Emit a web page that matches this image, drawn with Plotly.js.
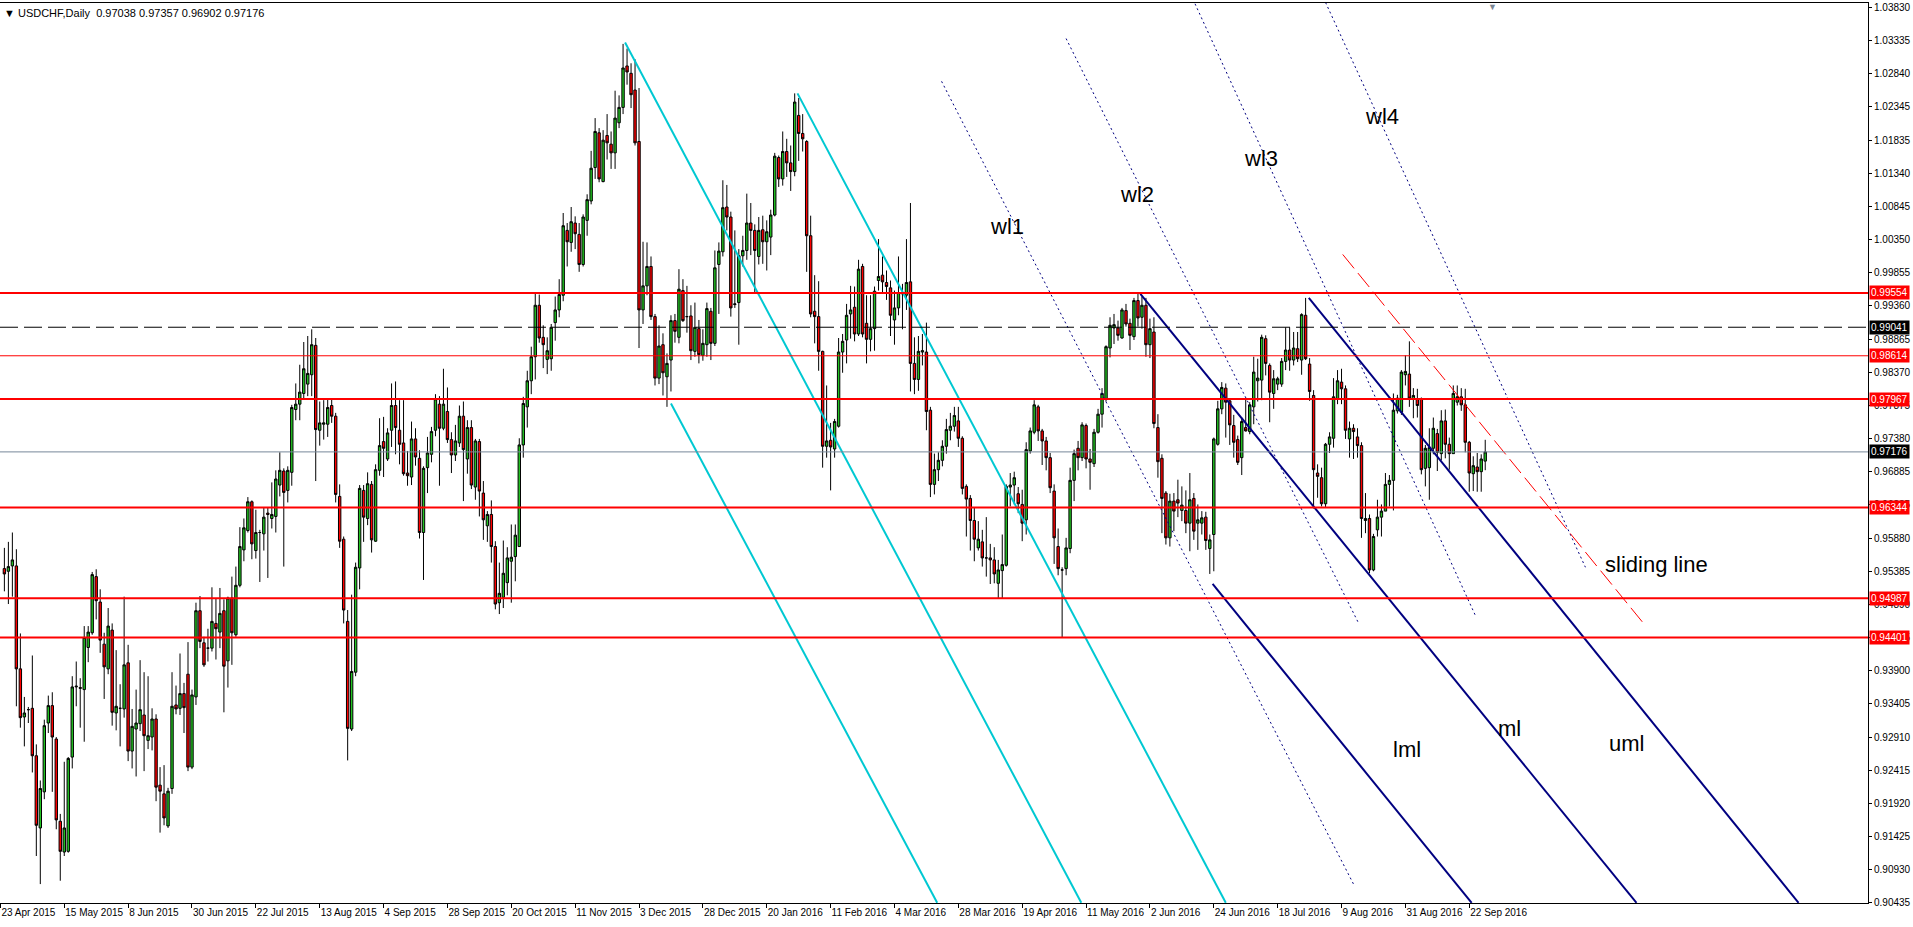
<!DOCTYPE html>
<html><head><meta charset="utf-8">
<script src="https://cdn.plot.ly/plotly-3.0.1.min.js"></script>
<style>html,body{margin:0;padding:0;background:#fff;overflow:hidden}#chart{width:1913px;height:927px}</style>
</head><body><div id="chart"></div>
<script>
const symbolTitle = 'USDCHF,Daily';
const lastBar = ['0.97038', '0.97357', '0.96902', '0.97176'];

const dateLabels = ['23 Apr 2015','15 May 2015','8 Jun 2015','30 Jun 2015','22 Jul 2015','13 Aug 2015','4 Sep 2015','28 Sep 2015','20 Oct 2015','11 Nov 2015','3 Dec 2015','28 Dec 2015','20 Jan 2016','11 Feb 2016','4 Mar 2016','28 Mar 2016','19 Apr 2016','11 May 2016','2 Jun 2016','24 Jun 2016','18 Jul 2016','9 Aug 2016','31 Aug 2016','22 Sep 2016'];
const dateLabelBars = [0,16,32,48,64,80,96,112,128,144,160,176,192,208,224,240,256,272,288,304,320,336,352,368];

const priceTicks = [1.03830,1.03335,1.02840,1.02345,1.01835,1.01340,1.00845,1.00350,0.99855,0.99360,0.98865,0.98370,0.97875,0.97380,0.96885,0.96385,0.95880,0.95385,0.94890,0.94395,0.93900,0.93405,0.92910,0.92415,0.91920,0.91425,0.90930,0.90435];

const openPrices = [
.9543,.9539,.9547,.9547,.9393,.9321,.9332,.9334,.9263,.9155,
.9209,.9312,.9338,.9288,.9165,.9119,.9120,.9261,.9366,.9365,
.9362,.9425,.9447,.9531,.9493,.9430,.9393,.9451,.9327,.9334,
.9333,.9402,.9270,.9303,.9311,.9324,.9286,.9291,.9318,.9219,
.9206,.9158,.9214,.9339,.9334,.9356,.9385,.9246,.9351,.9480,
.9432,.9424,.9424,.9461,.9448,.9480,.9405,.9499,.9444,.9518,
.9571,.9600,.9643,.9570,.9597,.9595,.9626,.9618,.9621,.9668,
.9689,.9660,.9687,.9781,.9789,.9805,.9819,.9833,.9877,.9750,
.9759,.9759,.9787,.9771,.9651,.9587,.9464,.9303,.9388,.9544,
.9660,.9618,.9669,.9584,.9690,.9733,.9707,.9750,.9787,.9750,
.9731,.9686,.9680,.9737,.9708,.9597,.9694,.9714,.9750,.9789,
.9753,.9778,.9736,.9713,.9731,.9771,.9707,.9754,.9665,.9733,
.9656,.9607,.9624,.9576,.9492,
.9500,.9522,.9554,.9561,.9576,.9728,.9785,.9824,.9860,.9937,
.9889,.9856,.9857,.9911,.9930,.9952,1.0049,1.0031,1.0060,1.0043,
.9998,1.0064,1.0093,1.0143,1.0195,1.0122,1.0191,1.0178,1.0165,1.0210,
1.0233,1.0295,1.0284,1.0259,1.0182,.9930,.9966,.9995,.9920,.9828,
.9878,.9830,.9855,.9914,.9889,.9959,.9920,.9921,.9868,.9902,
.9862,.9878,.9928,.9880,.9998,1.0017,1.0084,1.0069,.9938,.9941,
1.0011,1.0019,1.0060,1.0049,1.0010,1.0050,1.0032,1.0039,1.0072,1.0158,
1.0126,1.0167,1.0150,1.0137,1.0221,1.0194,1.0182,1.0041,.9928,.9920,
.9868,.9726,.9735,.9722,.9756,.9867,.9885,.9924,.9934,.9894,
.9995,.9910,.9886,.9902,.9974,.9982,.9971,.9963,.9915,.9933,
.9954,.9952,.9972,.9850,.9826,.9867,.9867,.9780,.9669,.9691,
.9705,.9726,.9750,.9756,.9764,.9738,.9666,.9648,.9615,.9574,
.9583,.9559,
.9559,.9556,.9521,.9540,.9548,.9665,.9668,.9655,.9639,.9616,
.9719,.9747,.9785,.9749,.9734,.9709,.9659,.9576,.9541,.9543,
.9573,.9675,.9723,.9709,.9757,.9707,.9700,.9747,.9774,.9797,
.9873,.9903,.9903,.9888,.9929,.9910,.9890,.9944,.9919,.9937,
.9878,.9897,.9754,.9708,.9656,.9589,.9644,.9646,.9630,.9630,
.9611,.9648,.9611,.9611,.9620,.9573,.9594,.9729,.9782,.9813,
.9794,.9757,.9736,.9709,.9754,.9748,.9785,.9824,.9825,.9887,
.9847,.9805,.9819,.9819,.9853,.9870,.9855,.9872,.9855,.9922,
.9849,.9802,.9686,.9679,.9640,.9729,.9738,.9797,.9822,.9812,
.9737,.9753,.9740,.9727,.9615,.9618,.9541,.9601,.9620,.9629,
.9669,.9675,.9779,.9777,.9833,.9834,.9797,.9797,.9797,.9693,
.9694,.9723,.9745,.9715,.9764,.9729,.9715,.9792,.9800,.9788,
.9732,.9685,.9695,.9688,.97038];

const highPrices = [
.9574,.9583,.9597,.9572,.9446,.9351,.9336,.9413,.9280,.9226,
.9317,.9353,.9358,.9291,.9176,.9254,.9261,.9382,.9404,.9379,
.9457,.9457,.9538,.9542,.9512,.9447,.9484,.9461,.9421,.9370,
.9501,.9429,.9333,.9362,.9406,.9388,.9382,.9334,.9325,.9246,
.9249,.9215,.9388,.9368,.9416,.9372,.9433,.9362,.9492,.9502,
.9441,.9453,.9515,.9498,.9514,.9497,.9501,.9531,.9546,.9605,
.9618,.9650,.9645,.9631,.9601,.9635,.9634,.9672,.9690,.9717,
.9693,.9696,.9788,.9820,.9848,.9882,.9891,.9901,.9888,.9793,
.9795,.9797,.9797,.9776,.9669,.9591,.9481,.9504,.9552,.9668,
.9668,.9687,.9674,.9699,.9768,.9770,.9753,.9820,.9823,.9795,
.9795,.9719,.9763,.9753,.9720,.9696,.9740,.9755,.9804,.9801,
.9842,.9814,.9747,.9758,.9787,.9793,.9765,.9765,.9737,.9737,
.9674,.9629,.9645,.9584,.9552,
.9585,.9575,.9609,.9609,.9738,.9800,.9839,.9875,.9956,.9953,
.9907,.9889,.9909,.9950,.9976,1.0075,1.0060,1.0084,1.0070,1.0060,
1.0073,1.0103,1.0168,1.0217,1.0202,1.0199,1.0223,1.0197,1.0258,1.0251,
1.0328,1.0321,1.0299,1.0305,1.0262,1.0032,1.0031,1.0010,.9924,.9907,
.9895,.9865,.9922,.9924,.9991,.9976,.9966,.9937,.9941,.9915,
.9901,.9941,.9933,1.0019,1.0031,1.0124,1.0117,1.0077,1.0049,1.0021,
1.0041,1.0104,1.0090,1.0058,1.0069,1.0071,1.0064,1.0080,1.0165,1.0161,
1.0197,1.0186,1.0176,1.0254,1.0247,1.0223,1.0184,1.0071,.9982,.9973,
.9869,.9817,.9761,.9767,.9888,.9894,.9939,.9966,.9965,1.0005,
.9999,.9952,.9952,.9965,1.0036,1.0010,.9989,.9974,.9959,1.0010,
.9969,1.0036,1.0090,.9889,.9891,.9894,.9911,.9785,.9715,.9717,
.9735,.9767,.9776,.9785,.9785,.9741,.9669,.9653,.9634,.9614,
.9601,.9620,
.9580,.9575,.9556,.9594,.9669,.9686,.9688,.9665,.9661,.9732,
.9754,.9795,.9788,.9752,.9740,.9716,.9669,.9603,.9545,.9589,
.9694,.9721,.9734,.9762,.9760,.9722,.9752,.9782,.9813,.9877,
.9919,.9924,.9914,.9933,.9939,.9917,.9948,.9954,.9950,.9948,
.9917,.9919,.9774,.9714,.9659,.9655,.9656,.9676,.9666,.9660,
.9686,.9656,.9639,.9629,.9628,.9594,.9739,.9794,.9822,.9820,
.9797,.9773,.9742,.9769,.9797,.9792,.9860,.9857,.9893,.9892,
.9850,.9840,.9830,.9858,.9904,.9904,.9897,.9897,.9925,.9948,
.9858,.9810,.9699,.9694,.9731,.9747,.9828,.9840,.9842,.9817,
.9763,.9759,.9753,.9732,.9656,.9624,.9595,.9646,.9639,.9686,
.9683,.9805,.9803,.9840,.9862,.9883,.9813,.9812,.9799,.9728,
.9753,.9769,.9752,.9780,.9781,.9739,.9817,.9817,.9813,.9812,
.9734,.9711,.9716,.9714,.97357];

const lowPrices = [
.9509,.9490,.9501,.9337,.9305,.9277,.9312,.9238,.9113,.9071,
.9198,.9297,.9209,.9153,.9076,.9113,.9118,.9244,.9337,.9305,
.9284,.9403,.9444,.9467,.9417,.9348,.9385,.9308,.9301,.9277,
.9320,.9255,.9244,.9232,.9300,.9240,.9273,.9271,.9195,.9148,
.9159,.9155,.9206,.9325,.9324,.9297,.9240,.9243,.9339,.9424,
.9396,.9404,.9419,.9407,.9424,.9328,.9365,.9399,.9441,.9515,
.9554,.9597,.9557,.9558,.9523,.9570,.9529,.9603,.9597,.9651,
.9546,.9642,.9667,.9765,.9765,.9797,.9801,.9801,.9674,.9727,
.9736,.9740,.9761,.9642,.9574,.9461,.9256,.9300,.9382,.9512,
.9583,.9608,.9567,.9583,.9682,.9680,.9704,.9725,.9714,.9699,
.9682,.9667,.9668,.9697,.9588,.9526,.9656,.9702,.9741,.9667,
.9750,.9731,.9686,.9704,.9725,.9644,.9685,.9662,.9646,.9621,
.9586,.9583,.9552,.9482,.9475,
.9484,.9503,.9492,.9524,.9576,.9709,.9754,.9804,.9826,.9881,
.9843,.9834,.9839,.9884,.9919,.9943,.9995,1.0017,1.0021,.9987,
.9995,1.0041,1.0088,1.0126,1.0121,1.0121,1.0155,1.0141,1.0141,1.0202,
1.0223,1.0267,1.0232,1.0176,.9873,.9909,.9952,.9915,.9817,.9819,
.9802,.9785,.9808,.9881,.9880,.9912,.9896,.9855,.9860,.9850,
.9854,.9860,.9855,.9876,.9924,1.0010,1.0049,.9920,.9933,.9878,
.9995,1.0005,1.0012,.9956,.9998,.9999,.9989,1.0012,1.0070,1.0114,
1.0116,1.0129,1.0108,1.0130,1.0153,1.0167,.9987,.9919,.9880,.9839,
.9694,.9709,.9660,.9709,.9754,.9836,.9850,.9887,.9883,.9891,
.9889,.9850,.9868,.9869,.9959,.9954,.9945,.9891,.9878,.9922,
.9901,.9930,.9808,.9804,.9809,.9847,.9750,.9650,.9654,.9674,
.9696,.9715,.9735,.9748,.9725,.9654,.9591,.9570,.9554,.9570,
.9546,.9531,
.9520,.9521,.9499,.9498,.9546,.9636,.9639,.9626,.9584,.9594,
.9715,.9744,.9734,.9698,.9690,.9656,.9550,.9533,.9440,.9533,
.9566,.9644,.9690,.9704,.9693,.9661,.9695,.9745,.9754,.9793,
.9859,.9879,.9884,.9887,.9905,.9870,.9885,.9905,.9902,.9860,
.9858,.9753,.9679,.9596,.9579,.9576,.9599,.9620,.9614,.9596,
.9569,.9586,.9571,.9594,.9571,.9535,.9539,.9727,.9774,.9739,
.9728,.9709,.9698,.9683,.9748,.9744,.9759,.9793,.9795,.9832,
.9762,.9782,.9810,.9815,.9840,.9839,.9847,.9852,.9833,.9855,
.9794,.9633,.9649,.9636,.9635,.9716,.9724,.9789,.9789,.9737,
.9709,.9707,.9709,.9589,.9596,.9536,.9539,.9591,.9591,.9629,
.9636,.9630,.9775,.9773,.9817,.9785,.9768,.9769,.9684,.9666,
.9646,.9714,.9689,.9705,.9708,.9691,.9715,.9787,.9779,.9717,
.9658,.9659,.9658,.9658,.96902];

const closePrices = [
.9535,.9546,.9556,.9393,.9320,.9327,.9332,.9263,.9159,.9214,
.9308,.9338,.9291,.9167,.9120,.9155,.9259,.9366,.9367,.9364,
.9440,.9448,.9534,.9495,.9436,.9396,.9457,.9328,.9337,.9334,
.9399,.9270,.9307,.9312,.9332,.9293,.9293,.9318,.9216,.9210,
.9170,.9210,.9337,.9333,.9356,.9335,.9246,.9354,.9480,.9434,
.9399,.9424,.9464,.9453,.9476,.9397,.9499,.9447,.9518,.9576,
.9604,.9643,.9580,.9597,.9597,.9620,.9624,.9624,.9677,.9690,
.9657,.9690,.9784,.9789,.9807,.9842,.9835,.9878,.9751,.9761,
.9761,.9784,.9771,.9654,.9584,.9481,.9304,.9389,.9545,.9663,
.9620,.9670,.9586,.9691,.9727,.9723,.9746,.9787,.9754,.9729,
.9685,.9682,.9737,.9710,.9597,.9693,.9716,.9748,.9797,.9753,
.9789,.9736,.9713,.9734,.9771,.9721,.9754,.9668,.9734,.9659,
.9616,.9624,.9576,.9490,.9506,
.9536,.9559,.9560,.9593,.9728,.9790,.9824,.9860,.9937,.9888,
.9878,.9869,.9904,.9930,.9953,1.0056,1.0032,1.0062,1.0044,.9998,
1.0069,1.0095,1.0142,1.0197,1.0126,1.0184,1.0180,1.0165,1.0217,1.0233,
1.0292,1.0286,1.0252,1.0180,.9930,.9966,.9995,.9920,.9828,.9876,
.9836,.9850,.9914,.9898,.9961,.9914,.9920,.9869,.9904,.9863,
.9880,.9932,.9880,.9993,1.0018,1.0083,1.0069,.9933,.9939,1.0011,
1.0019,1.0060,1.0049,1.0019,1.0049,1.0032,1.0047,1.0072,1.0160,1.0126,
1.0167,1.0150,1.0137,1.0241,1.0194,1.0186,1.0041,.9924,.9920,.9868,
.9726,.9734,.9725,.9763,.9867,.9883,.9922,.9930,.9894,.9991,
.9894,.9886,.9902,.9958,.9980,.9972,.9965,.9922,.9933,.9956,
.9955,.9971,.9850,.9826,.9868,.9869,.9778,.9669,.9691,.9705,
.9726,.9751,.9756,.9772,.9738,.9663,.9647,.9615,.9587,.9587,
.9559,.9559,
.9556,.9535,.9541,.9549,.9666,.9668,.9679,.9640,.9611,.9721,
.9749,.9788,.9749,.9734,.9709,.9664,.9589,.9543,.9541,.9574,
.9675,.9715,.9709,.9758,.9707,.9702,.9747,.9774,.9805,.9875,
.9907,.9908,.9892,.9930,.9909,.9892,.9944,.9918,.9937,.9878,
.9902,.9760,.9703,.9648,.9589,.9644,.9629,.9641,.9638,.9611,
.9646,.9599,.9616,.9619,.9585,.9586,.9737,.9782,.9814,.9792,
.9758,.9732,.9702,.9763,.9749,.9788,.9837,.9828,.9889,.9850,
.9807,.9827,.9827,.9853,.9870,.9855,.9873,.9857,.9923,.9857,
.9808,.9691,.9681,.9640,.9729,.9740,.9800,.9824,.9812,.9750,
.9753,.9748,.9727,.9618,.9618,.9541,.9591,.9620,.9629,.9669,
.9675,.9780,.9798,.9837,.9838,.9798,.9802,.9787,.9691,.9723,
.9724,.9753,.9717,.9764,.9729,.9715,.9805,.9800,.9788,.9732,
.9686,.9697,.9688,.9707,.97176];

// horizontal levels (prices)
const redLevels = [0.99554, 0.98614, 0.97967, 0.96344, 0.94987, 0.94401];
const dashedLevel = 0.99041;
const bidLevel = 0.97176;

// drawn trend lines: start/end as (bar index, price)
const cyanStartBar = [156.5, 199.7, 168.0];
const cyanStartPrice = [1.0330, 1.0254, 0.9790];
const cyanEndBar = [270.8, 307.0, 234.7];
const cyanEndPrice = [0.9043, 0.9043, 0.9043];

const forkStartBar = [285.6, 327.8, 303.7];
const forkStartPrice = [0.9954, 0.9948, 0.9520];
const forkEndBar = [409.9, 450.5, 368.6];
const forkEndPrice = [0.9043, 0.9043, 0.9043];

const warnStartBar = [235.8, 267.0, 299.3, 332.0];
const warnStartPrice = [1.0272, 1.0336, 1.0388, 1.0390];
const warnEndBar = [339.0, 340.3, 369.6, 397.1];
const warnEndPrice = [0.9071, 0.9461, 0.9472, 0.9545];

const slideStartBar = 336.3, slideStartPrice = 1.0013;
const slideEndBar = 411.4, slideEndPrice = 0.9463;

const noteText = ['wl1', 'wl2', 'wl3', 'wl4', 'lml', 'ml', 'uml', 'sliding line'];
const noteBar = [252.3, 284.7, 315.8, 346.1, 352.5, 378.1, 407.4, 414.8];
const notePrice = [1.0055, 1.0102, 1.0157, 1.0219, 0.9272, 0.9304, 0.9281, 0.9549];

const shiftMarkerBar = 373.7;

// ---------- build ----------
const N = Math.min(openPrices.length, highPrices.length, lowPrices.length, closePrices.length);
const barIdx = [];
for (let i = 0; i < N; i++) barIdx.push(i + 1);

const FONT = 'Liberation Sans, Arial, sans-serif';
const traces = [];
traces.push({
  type: 'candlestick', x: barIdx,
  open: openPrices.slice(0, N), high: highPrices.slice(0, N),
  low: lowPrices.slice(0, N), close: closePrices.slice(0, N),
  increasing: {line: {color: '#000000', width: 1}, fillcolor: '#22c322'},
  decreasing: {line: {color: '#000000', width: 1}, fillcolor: '#ff0000'},
  whiskerwidth: 0, hoverinfo: 'skip', showlegend: false
});
function seg(x0, y0, x1, y1, line) {
  traces.push({type: 'scatter', mode: 'lines', x: [x0, x1], y: [y0, y1], line: line, hoverinfo: 'skip', showlegend: false});
}
for (let k = 0; k < cyanStartBar.length; k++)
  seg(cyanStartBar[k], cyanStartPrice[k], cyanEndBar[k], cyanEndPrice[k], {color: '#00c8d2', width: 2});
for (let k = 0; k < forkStartBar.length; k++)
  seg(forkStartBar[k], forkStartPrice[k], forkEndBar[k], forkEndPrice[k], {color: '#000080', width: 2});
for (let k = 0; k < warnStartBar.length; k++)
  seg(warnStartBar[k], warnStartPrice[k], warnEndBar[k], warnEndPrice[k], {color: '#000080', width: 1, dash: '2px,3px'});
seg(slideStartBar, slideStartPrice, slideEndBar, slideEndPrice, {color: '#ff0000', width: 1, dash: '18px,6px'});

const shapes = [];
redLevels.forEach(function (p) {
  shapes.push({type: 'line', xref: 'paper', x0: 0, x1: 1, yref: 'y', y0: p, y1: p,
    line: {color: '#ff0000', width: (p === 0.98614 ? 1 : 2)}});
});
shapes.push({type: 'line', xref: 'paper', x0: 0, x1: 1, yref: 'y', y0: dashedLevel, y1: dashedLevel,
  line: {color: '#000000', width: 1, dash: '18px,6px'}});
shapes.push({type: 'line', xref: 'paper', x0: 0, x1: 1, yref: 'y', y0: bidLevel, y1: bidLevel,
  line: {color: '#778899', width: 1}});

const annotations = [];
function priceBox(p, bg) {
  annotations.push({xref: 'paper', x: 1, xanchor: 'left', xshift: 1, yref: 'y', y: p, yanchor: 'middle',
    text: p.toFixed(5), showarrow: false, bgcolor: bg, borderpad: 1,
    font: {family: FONT, size: 10, color: '#ffffff'}});
}
redLevels.forEach(function (p) { priceBox(p, '#ff0000'); });
priceBox(dashedLevel, '#000000');
priceBox(bidLevel, '#000000');

for (let k = 0; k < noteText.length; k++) {
  annotations.push({x: noteBar[k], y: notePrice[k], xref: 'x', yref: 'y', text: noteText[k], showarrow: false,
    xanchor: 'center', yanchor: 'middle', font: {family: FONT, size: 22, color: '#000000'}});
}
annotations.push({xref: 'paper', x: 0, xanchor: 'left', xshift: 2, yref: 'paper', y: 1, yanchor: 'top', yshift: -2,
  text: '\u25BC\u00a0' + symbolTitle + '\u00a0\u00a0' + lastBar.join('\u00a0'), showarrow: false,
  font: {family: FONT, size: 11, color: '#000000'}});
annotations.push({xref: 'x', x: shiftMarkerBar, yref: 'paper', y: 1, yanchor: 'top', yshift: 3,
  text: '\u25BC', showarrow: false, font: {family: FONT, size: 9, color: '#7a8694'}});

const layout = {
  width: 1913, height: 927,
  margin: {l: 0, r: 45, t: 3, b: 24, pad: 0},
  paper_bgcolor: '#ffffff', plot_bgcolor: '#ffffff',
  showlegend: false, boxgap: 0.4, boxgroupgap: 0,
  xaxis: {
    range: [-0.1, 467.9], tickmode: 'array', tickvals: dateLabelBars, ticktext: dateLabels,
    ticks: 'outside', ticklen: 4, tickwidth: 1, tickcolor: '#000000', ticklabelposition: 'outside right',
    tickangle: 0, tickfont: {family: FONT, size: 10, color: '#000000'},
    showgrid: false, zeroline: false, showline: true, linecolor: '#000000', linewidth: 1, mirror: true,
    rangeslider: {visible: false}, automargin: false, fixedrange: true
  },
  yaxis: {
    side: 'right', range: [0.90427, 1.03892], tickmode: 'array', tickvals: priceTicks,
    ticktext: priceTicks.map(function (v) { return v.toFixed(5); }),
    ticks: 'outside', ticklen: 3, tickwidth: 1, tickcolor: '#000000',
    tickfont: {family: FONT, size: 10, color: '#000000'},
    showgrid: false, zeroline: false, showline: true, linecolor: '#000000', linewidth: 1,
    automargin: false, fixedrange: true
  },
  shapes: shapes, annotations: annotations
};
Plotly.newPlot('chart', traces, layout, {displayModeBar: false, staticPlot: true});
</script>
</body></html>
